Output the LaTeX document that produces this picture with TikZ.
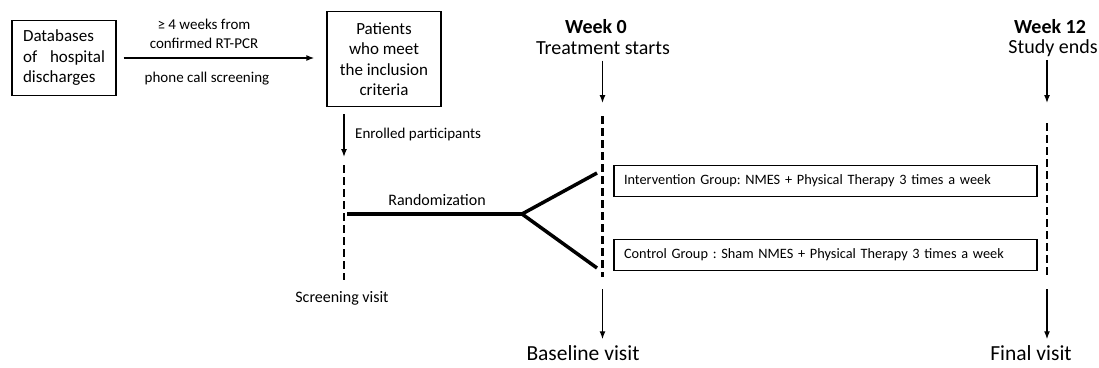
\documentclass[tikz,border=0pt]{standalone}
\usepackage{fontspec}
\setmainfont{Carlito}
\usetikzlibrary{positioning,arrows.meta}
\frenchspacing

\tikzset{
    txtbox/.style={draw,line width=1.3pt,inner sep=0pt,font=\fontsize{17}{20.5}\selectfont},
    grpbox/.style={draw,line width=1.6pt,minimum height=31pt,inner xsep=10pt,text width=403pt,align=left,font=\fontsize{14.3}{17}\selectfont},
    note/.style={inner sep=0pt,align=center,font=\fontsize{15}{19}\selectfont},
    midnote/.style={inner sep=0pt,font=\fontsize{16}{19}\selectfont},
    weeklabel/.style={inner sep=0pt,font=\bfseries\fontsize{20}{24}\selectfont},
    big/.style={inner sep=0pt,font=\fontsize{20}{24}\selectfont},
    visit/.style={inner sep=0pt,font=\fontsize{21.5}{26}\selectfont},
    visitline/.style={line width=2.5pt,dash pattern=on 8pt off 4pt},
    arr/.style={-{Latex[length=8pt,width=6pt]},line width=1.3pt},
    thickline/.style={line width=4pt,line join=miter}
}

\begin{document}
\begin{tikzpicture}[x=1pt,y=-1pt]
    \useasboundingbox (0,0) rectangle (1099,367);

    % screening part
    \node[txtbox,minimum width=104pt,minimum height=75pt,align=left] (db) at (64,58)
        {Databases\\of\hspace{9pt} hospital\\discharges};
    \node[txtbox,minimum width=114pt,minimum height=95pt,align=center] (pat) at (384,59)
        {Patients\\who meet\\the inclusion\\criteria};
    \draw[arr,shorten <=7pt,shorten >=12pt] (db.east) -- (pat.west |- db.east);
    \node[note] (weeks) at (204,34) {≥ 4 weeks from\\confirmed RT-PCR};
    \node[note] (call) at (207,79) {phone call screening};

    % visit lines
    \coordinate (s0) at (344,165);
    \coordinate (s1) at (344,280);
    \coordinate (b0) at (602.5,116);
    \coordinate (b1) at (602.5,277);
    \coordinate (f0) at (1047,123);
    \coordinate (f1) at (1047,277);
    \draw[visitline] (s0) -- (s1);
    \draw[visitline] (b0) -- (b1);
    \draw[visitline] (f0) -- (f1);

    \draw[arr,shorten <=7pt,shorten >=8pt] (pat.south -| s0) -- (s0);
    \node[note,anchor=west] (enrolled) at (355,134) {Enrolled participants};
    \node[midnote] (screening) at (342,298) {Screening visit};

    % randomization
    \coordinate (rnd) at (522,214);
    \coordinate (up) at (597,173);
    \coordinate (dn) at (597,268);
    \draw[thickline,shorten <=3pt] (s0 |- rnd) -- (rnd);
    \draw[thickline,line width=3.5pt] (up) -- (rnd) -- (dn);
    \node[midnote] (randlabel) at (437,200) {Randomization};

    % groups
    \node[grpbox] (intgroup) at (825.5,181) {Intervention Group: NMES + Physical Therapy 3 times a week};
    \node[grpbox] (ctlgroup) at (825.5,255) {Control Group : Sham NMES + Physical Therapy 3 times a week};

    % week 0
    \node[weeklabel] (week0) at (596,27) {Week 0};
    \node[big] (starts) at (603,48) {Treatment starts};
    \draw[arr,shorten <=6pt,shorten >=13pt] (starts.south -| b0) -- (b0);
    \node[visit] (baseline) at (583,353) {Baseline visit};
    \draw[arr,shorten <=12pt,shorten >=6pt] (b1) -- (baseline.north -| b1);

    % week 12
    \node[weeklabel] (week12) at (1050,27) {Week 12};
    \node[big] (ends) at (1053,48) {Study ends};
    \draw[arr,shorten <=3pt,shorten >=20pt] (ends.south -| f0) -- (f0);
    \node[visit] (final) at (1031,353) {Final visit};
    \draw[arr,shorten <=12pt,shorten >=6pt] (f1) -- (final.north -| f1);
\end{tikzpicture}
\end{document}
